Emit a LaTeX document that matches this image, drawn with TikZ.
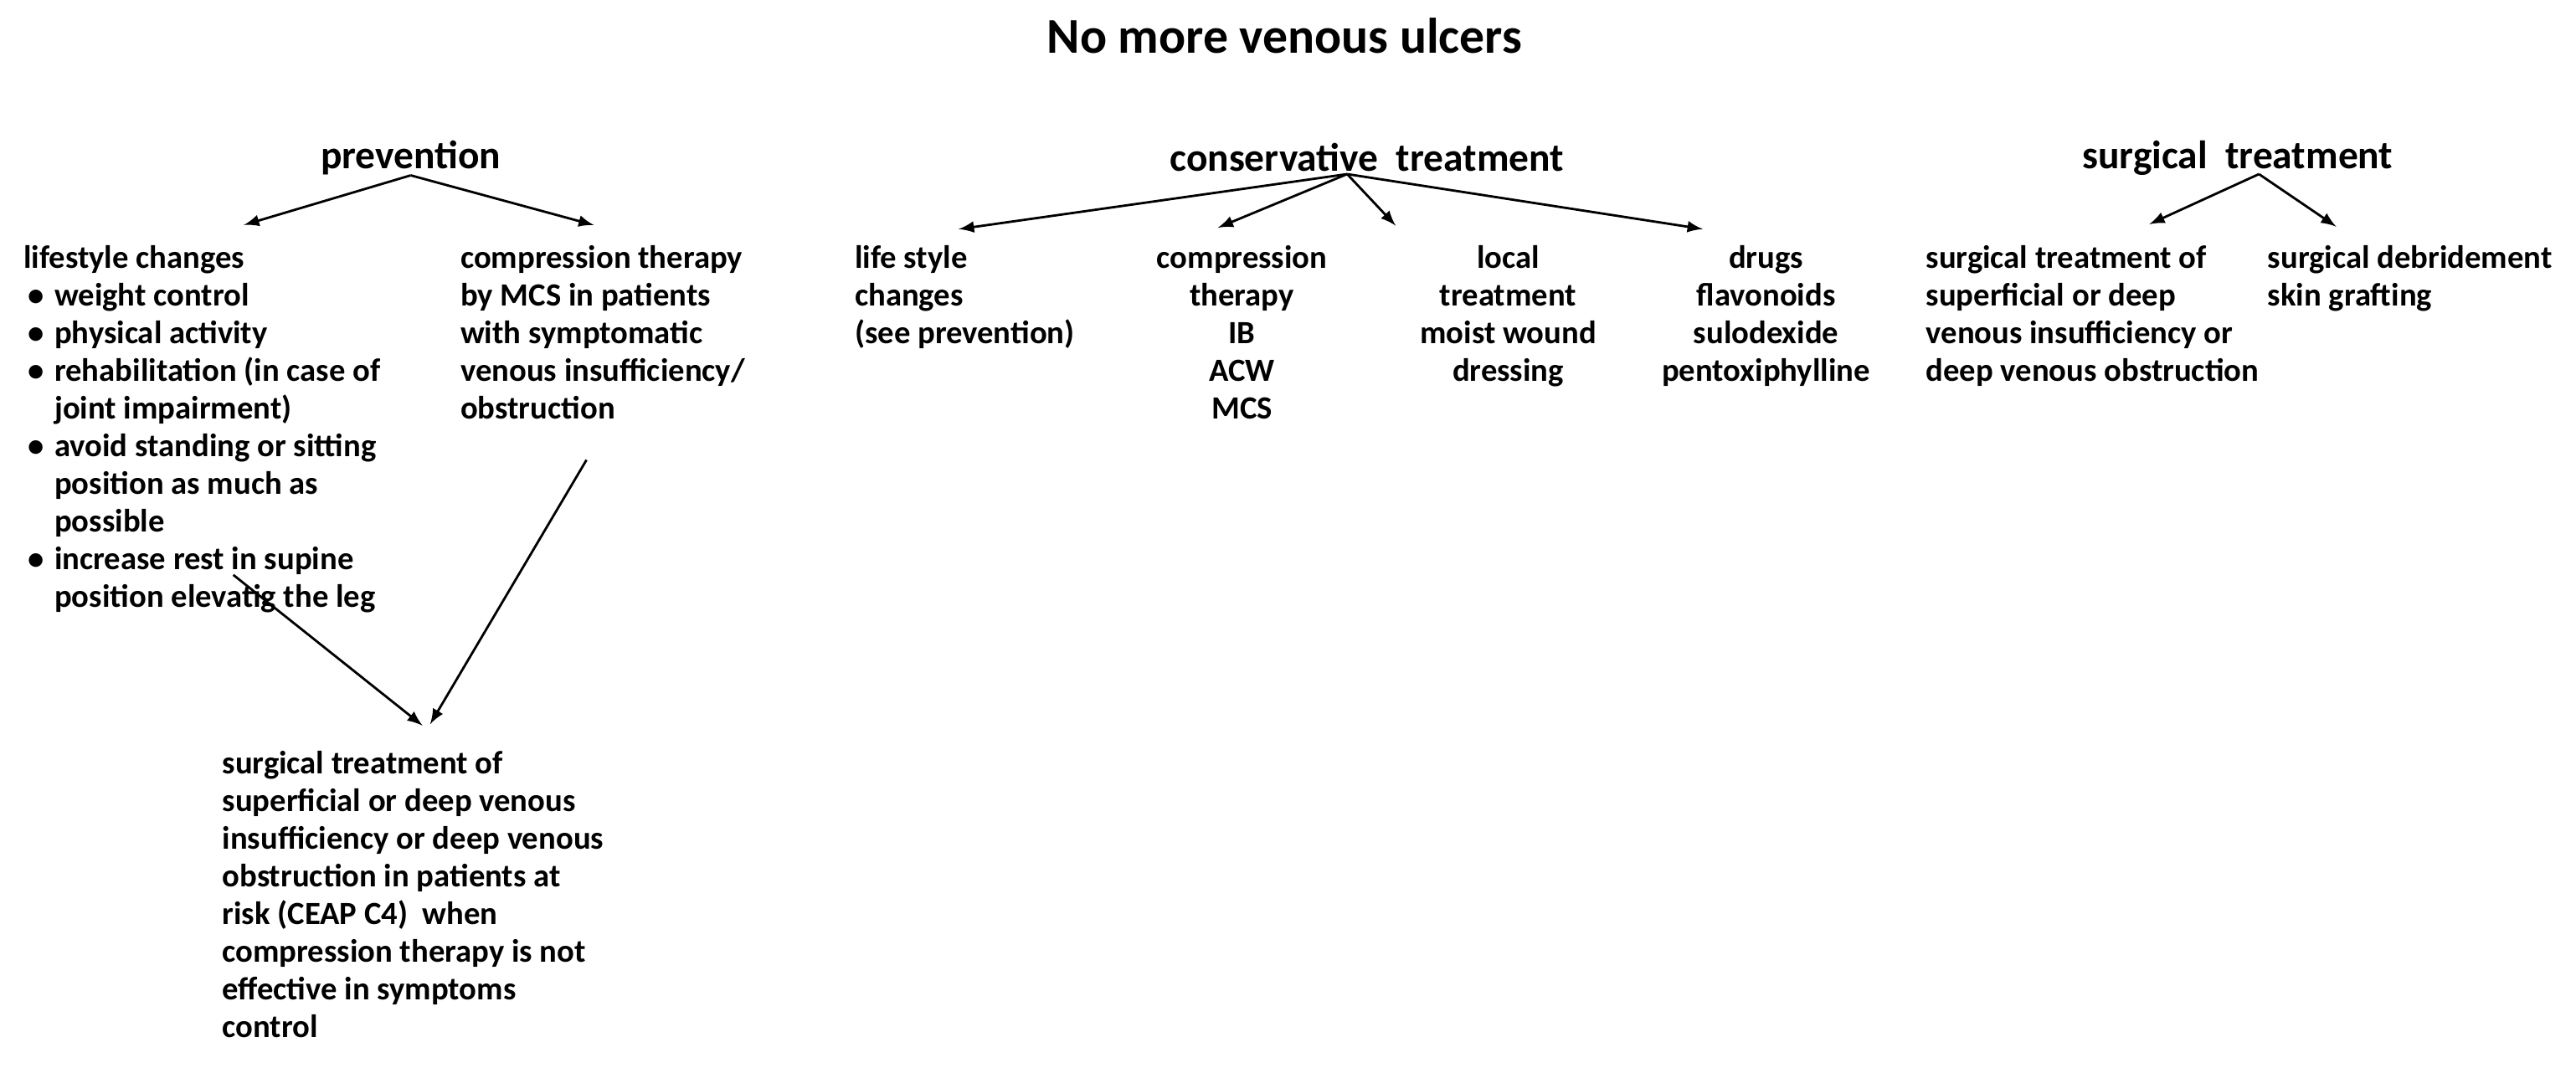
\documentclass[tikz,border=0pt]{standalone}
\usepackage{fontspec}
\setmainfont{Carlito}
\usetikzlibrary{positioning}
\newcommand{\bul}{\makebox[0.37cm][l]{\hspace{0.05cm}\textbullet}}
\newcommand{\ind}{\hspace*{0.37cm}}
\begin{document}
\begin{tikzpicture}[x=0.019624cm,y=-0.019624cm,
    every node/.style={inner sep=0pt},
    txt/.style={font=\bfseries\fontsize{11}{12.8}\selectfont,align=left,anchor=north west},
    ctr/.style={font=\bfseries\fontsize{11}{12.8}\selectfont,align=center,anchor=north},
    head/.style={font=\bfseries\fontsize{13.5}{16}\selectfont},
    link/.style={-latex,thick,shorten >=2pt}]
  \useasboundingbox (0,0) rectangle (1568,650);
  \node[font=\bfseries\fontsize{17}{20}\selectfont] (title) at (782,22) {No more venous ulcers};
  \node[head] (prev) at (250,96) {prevention};
  \node[head] (cons) at (832,96) {conservative\ \ treatment};
  \node[head] (surg) at (1362,96) {surgical\ \ treatment};
  % prevention
  \node[txt] (life) at (14,149) {lifestyle changes\\
    \bul weight control\\ \bul physical activity\\
    \bul rehabilitation (in case of\\ \ind joint impairment)\\
    \bul avoid standing or sitting\\ \ind position as much as\\ \ind possible\\
    \bul increase rest in supine\\ \ind position elevatig the leg};
  \node[txt] (comp) at (280,149) {compression therapy\\ by MCS in patients\\ with symptomatic\\ venous insufficiency/\\ obstruction};
  \node[txt] (risk) at (135,457) {surgical treatment of\\ superficial or deep venous\\ insufficiency or deep venous\\ obstruction in patients at\\ risk (CEAP C4)\ \ when\\ compression therapy is not\\ effective in symptoms\\ control};
  \coordinate (lifeout) at (142,350);
  \coordinate (compout) at (357,280);
  \coordinate (riskin) at (260,444);
  \draw[link] (prev.south) -- (145,138);
  \draw[link] (prev.south) -- (365,138);
  \draw[link] (lifeout) -- (riskin);
  \draw[link] (compout) -- (riskin);
  % conservative
  \node[txt] (lsc) at (520,149) {life style\\ changes\\ (see prevention)};
  \node[ctr] (cth) at (756,149) {compression\\ therapy\\ IB\\ ACW\\ MCS};
  \node[ctr] (loc) at (918,149) {local\\ treatment\\ moist wound\\ dressing};
  \node[ctr] (drg) at (1075,149) {drugs\\ flavonoids\\ sulodexide\\ pentoxiphylline};
  \coordinate (consout) at (820,106);
  \draw[link] (consout) -- (580,140);
  \draw[link] (consout) -- (738,140);
  \draw[link] (consout) -- (852,140);
  \draw[link] (consout) -- (1040,140);
  % surgical
  \node[txt] (sup) at (1172,149) {surgical treatment of\\ superficial or deep\\ venous insufficiency or\\ deep venous obstruction};
  \node[txt] (deb) at (1380,149) {surgical debridement\\ skin grafting};
  \coordinate (surgout) at (1375,106);
  \draw[link] (surgout) -- (1305,138);
  \draw[link] (surgout) -- (1425,140);
\end{tikzpicture}
\end{document}
